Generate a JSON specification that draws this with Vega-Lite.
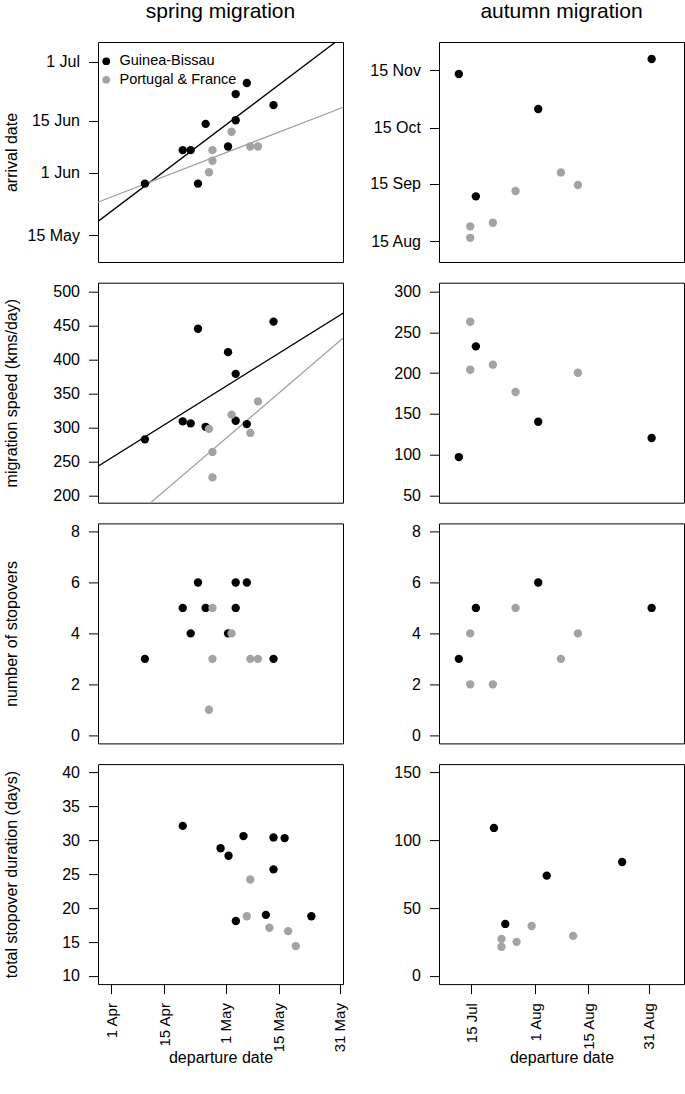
{
  "$schema": "https://vega.github.io/schema/vega-lite/v6.json",
  "padding": {"left": 2, "top": 0, "right": 0, "bottom": 0},
  "config": {
    "font": "Liberation Sans",
    "view": {"stroke": "#000000", "strokeWidth": 1},
    "axis": {
      "grid": false, "domain": false, "ticks": true, "tickColor": "#000000", "tickSize": 9.5, "tickWidth": 1,
      "labelFont": "Liberation Sans", "labelFontSize": 16, "labelColor": "#000000", "labelPadding": 9,
      "labelOverlap": false, "labelFlush": false,
      "titleFont": "Liberation Sans", "titleFontSize": 16, "titleFontWeight": "normal", "titleColor": "#000000"
    },
    "title": {"font": "Liberation Sans", "fontSize": 21, "fontWeight": "normal", "color": "#000000"}
  },
  "datasets": {
    "spring": [
      {"pop": "Guinea-Bissau", "dep": "2014-04-19T19:00", "arr": "2014-05-29T00:00", "speed": 282.5, "stops": 3, "dur": 32.1},
      {"pop": "Guinea-Bissau", "dep": "2014-04-29T17:00", "arr": "2014-06-07T02:00", "speed": 309, "stops": 5, "dur": 28.8},
      {"pop": "Guinea-Bissau", "dep": "2014-05-01T19:00", "arr": "2014-06-07T02:00", "speed": 306, "stops": 4, "dur": 27.7},
      {"pop": "Guinea-Bissau", "dep": "2014-05-03T17:00", "arr": "2014-05-29T00:00", "speed": 445.5, "stops": 6, "dur": 18.1},
      {"pop": "Guinea-Bissau", "dep": "2014-05-05T17:00", "arr": "2014-06-14T05:00", "speed": 301, "stops": 5, "dur": 30.6},
      {"pop": "Guinea-Bissau", "dep": "2014-05-11T14:00", "arr": "2014-06-08T02:00", "speed": 411, "stops": 4, "dur": 19.0},
      {"pop": "Guinea-Bissau", "dep": "2014-05-13T14:00", "arr": "2014-06-22T07:00", "speed": 379, "stops": 6, "dur": 30.4},
      {"pop": "Guinea-Bissau", "dep": "2014-05-13T14:00", "arr": "2014-06-15T05:00", "speed": 310, "stops": 5, "dur": 25.7},
      {"pop": "Guinea-Bissau", "dep": "2014-05-16T12:00", "arr": "2014-06-25T07:00", "speed": 305, "stops": 6, "dur": 30.3},
      {"pop": "Guinea-Bissau", "dep": "2014-05-23T12:00", "arr": "2014-06-19T07:00", "speed": 456, "stops": 3, "dur": 18.8},
      {"pop": "Portugal & France", "dep": "2014-05-06T14:00", "arr": "2014-06-01T02:00", "speed": 298, "stops": 1, "dur": 18.8},
      {"pop": "Portugal & France", "dep": "2014-05-07T12:00", "arr": "2014-06-04T05:00", "speed": 264, "stops": 5, "dur": 24.2},
      {"pop": "Portugal & France", "dep": "2014-05-07T12:00", "arr": "2014-06-07T02:00", "speed": 226.5, "stops": 3, "dur": null},
      {"pop": "Portugal & France", "dep": "2014-05-12T12:00", "arr": "2014-06-12T02:00", "speed": 319, "stops": 4, "dur": 17.1},
      {"pop": "Portugal & France", "dep": "2014-05-17T10:00", "arr": "2014-06-08T02:00", "speed": 292, "stops": 3, "dur": 16.6},
      {"pop": "Portugal & France", "dep": "2014-05-19T10:00", "arr": "2014-06-08T02:00", "speed": 338.5, "stops": 3, "dur": 14.4}
    ],
    "autumn": [
      {"pop": "Guinea-Bissau", "dep": "2014-07-21T00:00", "arr": "2014-11-13T00:00", "speed": 97, "stops": 3, "dur": 109},
      {"pop": "Guinea-Bissau", "dep": "2014-07-24T00:00", "arr": "2014-09-08T05:00", "speed": 232.9, "stops": 5, "dur": 38.3},
      {"pop": "Guinea-Bissau", "dep": "2014-08-04T00:00", "arr": "2014-10-25T05:00", "speed": 140.4, "stops": 6, "dur": 73.9},
      {"pop": "Guinea-Bissau", "dep": "2014-08-24T00:00", "arr": "2014-11-21T02:00", "speed": 120.4, "stops": 5, "dur": 83.9},
      {"pop": "Portugal & France", "dep": "2014-07-23T00:00", "arr": "2014-08-23T02:00", "speed": 263.1, "stops": 4, "dur": 27.3},
      {"pop": "Portugal & France", "dep": "2014-07-23T00:00", "arr": "2014-08-16T22:00", "speed": 204.2, "stops": 2, "dur": 21.5},
      {"pop": "Portugal & France", "dep": "2014-07-27T00:00", "arr": "2014-08-25T00:00", "speed": 210.4, "stops": 2, "dur": 25.1},
      {"pop": "Portugal & France", "dep": "2014-07-31T00:00", "arr": "2014-09-11T02:00", "speed": 176.8, "stops": 5, "dur": 36.8},
      {"pop": "Portugal & France", "dep": "2014-08-08T00:00", "arr": "2014-09-21T02:00", "speed": null, "stops": 3, "dur": null},
      {"pop": "Portugal & France", "dep": "2014-08-11T00:00", "arr": "2014-09-14T07:00", "speed": 200.5, "stops": 4, "dur": 29.5}
    ],
    "fitArr": [
      {"fit": "Guinea-Bissau fit", "dep": "2014-03-31T00:00", "arr": "2014-05-12T22:00"},
      {"fit": "Guinea-Bissau fit", "dep": "2014-06-19T00:00", "arr": "2014-07-14T10:00"},
      {"fit": "Portugal & France fit", "dep": "2014-03-31T00:00", "arr": "2014-05-21T00:00"},
      {"fit": "Portugal & France fit", "dep": "2014-06-19T00:00", "arr": "2014-06-22T00:00"}
    ],
    "fitSpeed": [
      {"fit": "Guinea-Bissau fit", "dep": "2014-03-31T00:00", "speed": 216.4},
      {"fit": "Guinea-Bissau fit", "dep": "2014-06-19T00:00", "speed": 497.5},
      {"fit": "Portugal & France fit", "dep": "2014-03-31T00:00", "speed": 86.7},
      {"fit": "Portugal & France fit", "dep": "2014-06-19T00:00", "speed": 471.5}
    ]
  },
  "columns": 2,
  "spacing": {"row": 20.7, "column": 96},
  "bounds": "flush",
  "resolve": {"scale": {"color": "independent", "stroke": "independent"}, "legend": {"color": "independent", "stroke": "independent"}},
  "concat": [
    {
      "width": 245, "height": 220,
      "title": {"text": "spring migration", "offset": 20, "anchor": "middle", "frame": "group"},
      "encoding": {
        "x": {"field": "dep", "type": "temporal", "scale": {"domain": [{"year": 2014, "month": 4, "date": 7, "hours": 12}, {"year": 2014, "month": 6, "date": 10, "hours": 17}], "nice": false}, "axis": null},
        "y": {"field": "arr", "type": "temporal", "scale": {"domain": [{"year": 2014, "month": 5, "date": 7, "hours": 18}, {"year": 2014, "month": 7, "date": 6, "hours": 10}], "nice": false},
              "axis": {"title": "arrival date", "format": "%-d %b", "values": [{"year": 2014, "month": 5, "date": 15}, {"year": 2014, "month": 6, "date": 1}, {"year": 2014, "month": 6, "date": 15}, {"year": 2014, "month": 7, "date": 1}],
                       "titleX": -87, "titleY": 110, "titleAngle": -90, "titleAlign": "center", "titleBaseline": "middle"}}
      },
      "layer": [
        {"data": {"name": "fitArr"}, "mark": {"type": "line", "clip": true, "strokeWidth": 1.3},
         "encoding": {"stroke": {"field": "fit", "type": "nominal", "scale": {"domain": ["Guinea-Bissau fit", "Portugal & France fit"], "range": ["#000000", "#A3A3A3"]}, "legend": null}}},
        {"data": {"name": "spring"}, "mark": {"type": "circle", "size": 70, "opacity": 1},
         "encoding": {"color": {"field": "pop", "type": "nominal", "scale": {"domain": ["Guinea-Bissau", "Portugal & France"], "range": ["#000000", "#A3A3A3"]},
                                "legend": {"title": null, "orient": "none", "legendX": 1, "legendY": 12, "symbolType": "circle", "symbolSize": 60, "symbolStrokeWidth": 0, "symbolOpacity": 1, "labelFont": "Liberation Sans", "labelFontSize": 14.5, "labelColor": "#000000", "labelOffset": 6, "rowPadding": 3.5, "padding": 0}}}}
      ]
    },
    {
      "width": 245, "height": 220,
      "title": {"text": "autumn migration", "offset": 20, "anchor": "middle", "frame": "group"},
      "data": {"name": "autumn"},
      "mark": {"type": "circle", "size": 70, "opacity": 1},
      "encoding": {
        "x": {"field": "dep", "type": "temporal", "scale": {"domain": [{"year": 2014, "month": 7, "date": 17, "hours": 12}, {"year": 2014, "month": 8, "date": 29, "hours": 17}], "nice": false}, "axis": null},
        "y": {"field": "arr", "type": "temporal", "scale": {"domain": [{"year": 2014, "month": 8, "date": 3, "hours": 22}, {"year": 2014, "month": 11, "date": 30, "hours": 5}], "nice": false},
              "axis": {"title": null, "format": "%-d %b", "values": [{"year": 2014, "month": 8, "date": 15}, {"year": 2014, "month": 9, "date": 15}, {"year": 2014, "month": 10, "date": 15}, {"year": 2014, "month": 11, "date": 15}]}},
        "color": {"field": "pop", "type": "nominal", "scale": {"domain": ["Guinea-Bissau", "Portugal & France"], "range": ["#000000", "#A3A3A3"]}, "legend": null}
      }
    },
    {
      "width": 245, "height": 220,
      "encoding": {
        "x": {"field": "dep", "type": "temporal", "scale": {"domain": [{"year": 2014, "month": 4, "date": 7, "hours": 12}, {"year": 2014, "month": 6, "date": 10, "hours": 17}], "nice": false}, "axis": null},
        "y": {"field": "speed", "type": "quantitative", "scale": {"domain": [189.2, 513.3], "nice": false, "zero": false},
              "axis": {"title": "migration speed (kms/day)", "values": [200, 250, 300, 350, 400, 450, 500],
                       "titleX": -87, "titleY": 110, "titleAngle": -90, "titleAlign": "center", "titleBaseline": "middle"}}
      },
      "layer": [
        {"data": {"name": "fitSpeed"}, "mark": {"type": "line", "clip": true, "strokeWidth": 1.3},
         "encoding": {"stroke": {"field": "fit", "type": "nominal", "scale": {"domain": ["Guinea-Bissau fit", "Portugal & France fit"], "range": ["#000000", "#A3A3A3"]}, "legend": null}}},
        {"data": {"name": "spring"}, "mark": {"type": "circle", "size": 70, "opacity": 1},
         "encoding": {"color": {"field": "pop", "type": "nominal", "scale": {"domain": ["Guinea-Bissau", "Portugal & France"], "range": ["#000000", "#A3A3A3"]}, "legend": null}}}
      ]
    },
    {
      "width": 245, "height": 220,
      "data": {"name": "autumn"},
      "mark": {"type": "circle", "size": 70, "opacity": 1},
      "encoding": {
        "x": {"field": "dep", "type": "temporal", "scale": {"domain": [{"year": 2014, "month": 7, "date": 17, "hours": 12}, {"year": 2014, "month": 8, "date": 29, "hours": 17}], "nice": false}, "axis": null},
        "y": {"field": "speed", "type": "quantitative", "scale": {"domain": [41, 311], "nice": false, "zero": false},
              "axis": {"title": null, "values": [50, 100, 150, 200, 250, 300]}},
        "color": {"field": "pop", "type": "nominal", "scale": {"domain": ["Guinea-Bissau", "Portugal & France"], "range": ["#000000", "#A3A3A3"]}, "legend": null}
      }
    },
    {
      "width": 245, "height": 220,
      "data": {"name": "spring"},
      "mark": {"type": "circle", "size": 70, "opacity": 1},
      "encoding": {
        "x": {"field": "dep", "type": "temporal", "scale": {"domain": [{"year": 2014, "month": 4, "date": 7, "hours": 12}, {"year": 2014, "month": 6, "date": 10, "hours": 17}], "nice": false}, "axis": null},
        "y": {"field": "stops", "type": "quantitative", "scale": {"domain": [-0.32, 8.32], "nice": false, "zero": false},
              "axis": {"title": "number of stopovers", "values": [0, 2, 4, 6, 8],
                       "titleX": -87, "titleY": 110, "titleAngle": -90, "titleAlign": "center", "titleBaseline": "middle"}},
        "color": {"field": "pop", "type": "nominal", "scale": {"domain": ["Guinea-Bissau", "Portugal & France"], "range": ["#000000", "#A3A3A3"]}, "legend": null}
      }
    },
    {
      "width": 245, "height": 220,
      "data": {"name": "autumn"},
      "mark": {"type": "circle", "size": 70, "opacity": 1},
      "encoding": {
        "x": {"field": "dep", "type": "temporal", "scale": {"domain": [{"year": 2014, "month": 7, "date": 17, "hours": 12}, {"year": 2014, "month": 8, "date": 29, "hours": 17}], "nice": false}, "axis": null},
        "y": {"field": "stops", "type": "quantitative", "scale": {"domain": [-0.32, 8.32], "nice": false, "zero": false},
              "axis": {"title": null, "values": [0, 2, 4, 6, 8]}},
        "color": {"field": "pop", "type": "nominal", "scale": {"domain": ["Guinea-Bissau", "Portugal & France"], "range": ["#000000", "#A3A3A3"]}, "legend": null}
      }
    },
    {
      "width": 245, "height": 220,
      "data": {"name": "spring"},
      "mark": {"type": "circle", "size": 70, "opacity": 1},
      "encoding": {
        "x": {"field": "dep", "type": "temporal", "scale": {"domain": [{"year": 2014, "month": 3, "date": 28, "hours": 14}, {"year": 2014, "month": 5, "date": 31, "hours": 19}], "nice": false},
              "axis": {"title": "departure date", "format": "%-d %b", "labelAngle": 270, "labelAlign": "right", "labelBaseline": "middle", "labelFontSize": 15,
                       "values": [{"year": 2014, "month": 4, "date": 1}, {"year": 2014, "month": 4, "date": 15}, {"year": 2014, "month": 5, "date": 1}, {"year": 2014, "month": 5, "date": 15}, {"year": 2014, "month": 5, "date": 31}],
                       "titleY": 73, "titleBaseline": "middle", "titleAlign": "center"}},
        "y": {"field": "dur", "type": "quantitative", "scale": {"domain": [8.8, 41.2], "nice": false, "zero": false},
              "axis": {"title": "total stopover duration (days)", "values": [10, 15, 20, 25, 30, 35, 40],
                       "titleX": -87, "titleY": 110, "titleAngle": -90, "titleAlign": "center", "titleBaseline": "middle"}},
        "color": {"field": "pop", "type": "nominal", "scale": {"domain": ["Guinea-Bissau", "Portugal & France"], "range": ["#000000", "#A3A3A3"]}, "legend": null}
      }
    },
    {
      "width": 245, "height": 220,
      "data": {"name": "autumn"},
      "mark": {"type": "circle", "size": 70, "opacity": 1},
      "encoding": {
        "x": {"field": "dep", "type": "temporal", "scale": {"domain": [{"year": 2014, "month": 7, "date": 6, "hours": 10}, {"year": 2014, "month": 9, "date": 9, "hours": 10}], "nice": false},
              "axis": {"title": "departure date", "format": "%-d %b", "labelAngle": 270, "labelAlign": "right", "labelBaseline": "middle", "labelFontSize": 15,
                       "values": [{"year": 2014, "month": 7, "date": 15}, {"year": 2014, "month": 8, "date": 1}, {"year": 2014, "month": 8, "date": 15}, {"year": 2014, "month": 8, "date": 31}],
                       "titleY": 73, "titleBaseline": "middle", "titleAlign": "center"}},
        "y": {"field": "dur", "type": "quantitative", "scale": {"domain": [-6, 156], "nice": false, "zero": false},
              "axis": {"title": null, "values": [0, 50, 100, 150]}},
        "color": {"field": "pop", "type": "nominal", "scale": {"domain": ["Guinea-Bissau", "Portugal & France"], "range": ["#000000", "#A3A3A3"]}, "legend": null}
      }
    }
  ]
}
